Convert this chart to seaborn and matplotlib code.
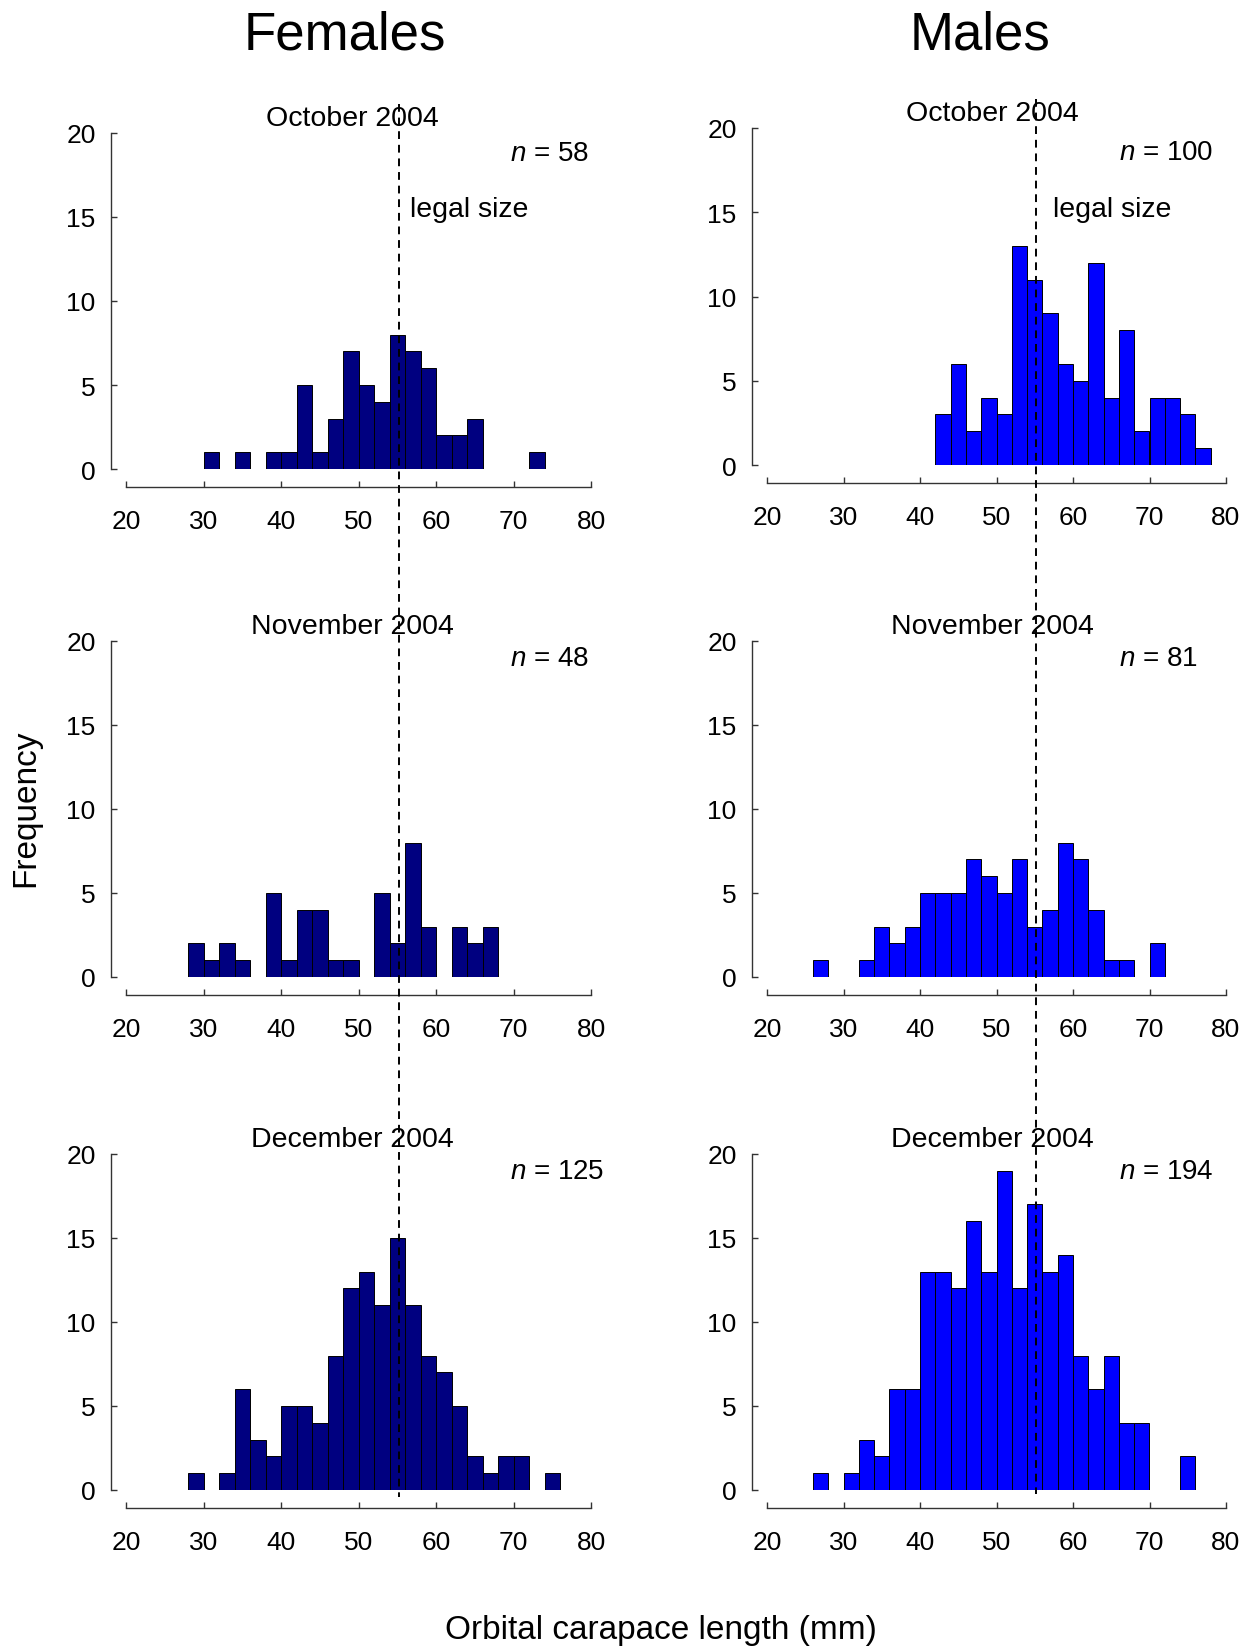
import matplotlib
matplotlib.use("Agg")
import matplotlib.pyplot as plt
import matplotlib.transforms as mtransforms
from matplotlib.lines import Line2D
import seaborn as sns

# lower edge of each 2 mm size class (mm)
size_bins = [26, 28, 30, 32, 34, 36, 38, 40, 42, 44, 46, 48, 50,
             52, 54, 56, 58, 60, 62, 64, 66, 68, 70, 72, 74, 76]

months = ["October 2004", "November 2004", "December 2004"]

# counts per size class
fem_oct = [0, 0, 1, 0, 1, 0, 1, 1, 5, 1, 3, 7, 5, 4, 8, 7, 6, 2, 2, 3, 0, 0, 0, 1, 0, 0]
fem_nov = [0, 2, 1, 2, 1, 0, 5, 1, 4, 4, 1, 1, 0, 5, 2, 8, 3, 0, 3, 2, 3, 0, 0, 0, 0, 0]
fem_dec = [0, 1, 0, 1, 6, 3, 2, 5, 5, 4, 8, 12, 13, 11, 15, 11, 8, 7, 5, 2, 1, 2, 2, 0, 1, 0]
mal_oct = [0, 0, 0, 0, 0, 0, 0, 0, 3, 6, 2, 4, 3, 13, 11, 9, 6, 5, 12, 4, 8, 2, 4, 4, 3, 1]
mal_nov = [1, 0, 0, 1, 3, 2, 3, 5, 5, 5, 7, 6, 5, 7, 3, 4, 8, 7, 4, 1, 1, 0, 2, 0, 0, 0]
mal_dec = [1, 0, 1, 3, 2, 6, 6, 13, 13, 12, 16, 13, 19, 12, 17, 13, 14, 8, 6, 8, 4, 4, 0, 0, 2, 0]

fem_n = [58, 48, 125]
mal_n = [100, 81, 194]
legal_size = 55.2

sns.set_theme(style="ticks")
plt.rcParams["font.family"] = ["Liberation Sans", "DejaVu Sans"]
plt.rcParams["text.color"] = "black"
plt.rcParams["mathtext.fontset"] = "custom"
plt.rcParams["mathtext.it"] = "Liberation Sans:italic"
plt.rcParams["mathtext.rm"] = "Liberation Sans"

W, H = 1259, 1649
fig = plt.figure(figsize=(W / 100, H / 100), dpi=100)


def box(left, right, top, bottom):
    return [left / W, 1 - bottom / H, (right - left) / W, (bottom - top) / H]


edges = size_bins + [size_bins[-1] + 2]
cols = [
    dict(name="Females", color="#000080", data=[fem_oct, fem_nov, fem_dec], n=fem_n,
         x=(126, 591), rows=[(134, 470), (642, 978), (1155, 1491)],
         nx=69.5, ny=[18.8, 19.0, 19.0], lx=56.6, ly=15.5, tx=49.2,
         line=(105, 1498), title_x=345),
    dict(name="Males", color="#0000FF", data=[mal_oct, mal_nov, mal_dec], n=mal_n,
         x=(767, 1226), rows=[(129, 466), (642, 978), (1155, 1491)],
         nx=66.0, ny=[18.55, 19.0, 19.0], lx=57.4, ly=15.2, tx=49.5,
         line=(100, 1495), title_x=980),
]

for col in cols:
    axes = []
    for i, counts in enumerate(col["data"]):
        top, bottom = col["rows"][i]
        ax = fig.add_axes(box(col["x"][0], col["x"][1], top, bottom))
        sns.histplot(x=size_bins, weights=counts, bins=edges, ax=ax,
                     color=col["color"], edgecolor="black", linewidth=0.7, alpha=1)
        for p in ax.patches:
            if p.get_height() == 0:
                p.set_visible(False)
        ax.set_xlim(20, 80)
        ax.set_ylim(0, 20)
        ax.set_xticks([20, 30, 40, 50, 60, 70, 80])
        ax.set_yticks([0, 5, 10, 15, 20])
        ax.set_xlabel("")
        ax.set_ylabel("")
        ax.set_facecolor("none")
        for s in ["top", "right"]:
            ax.spines[s].set_visible(False)
        ax.spines["left"].set_position(("outward", 10.8))
        ax.spines["bottom"].set_position(("outward", 13))
        ax.spines["left"].set_bounds(0, 20)
        ax.spines["bottom"].set_bounds(20, 80)
        for s in ["left", "bottom"]:
            ax.spines[s].set_color("#333333")
            ax.spines[s].set_linewidth(1.0)
        ax.tick_params(axis="both", direction="in", length=4, width=1,
                       color="#333333", labelsize=19, labelcolor="black")
        ax.tick_params(axis="y", pad=11)
        ax.tick_params(axis="x", pad=16)
        ax.text(col["tx"], 20.9, months[i], ha="center", va="center", fontsize=20.5,
                clip_on=False)
        ax.text(col["nx"], col["ny"][i], r"$n$ = %d" % col["n"][i], ha="left",
                va="center", fontsize=20)
        if i == 0:
            ax.text(col["lx"], col["ly"], "legal size", ha="left", va="center",
                    fontsize=20.5)
        axes.append(ax)

    # legal size line running through all three months
    trans = mtransforms.blended_transform_factory(axes[0].transData, fig.transFigure)
    y0, y1 = col["line"]
    fig.add_artist(Line2D([legal_size, legal_size], [1 - y0 / H, 1 - y1 / H],
                          transform=trans, color="black", linewidth=1.4,
                          dashes=(4, 3)))

    fig.text(col["title_x"] / W, 1 - 35 / H, col["name"], ha="center", va="center",
             fontsize=38)

fig.text(26 / W, 1 - 808 / H, "Frequency", rotation=90, ha="center", va="center",
         fontsize=24)
fig.text(661 / W, 1 - 1631 / H, "Orbital carapace length (mm)", ha="center",
         va="center", fontsize=24)

fig.savefig("out.png", dpi=100, facecolor="white")
